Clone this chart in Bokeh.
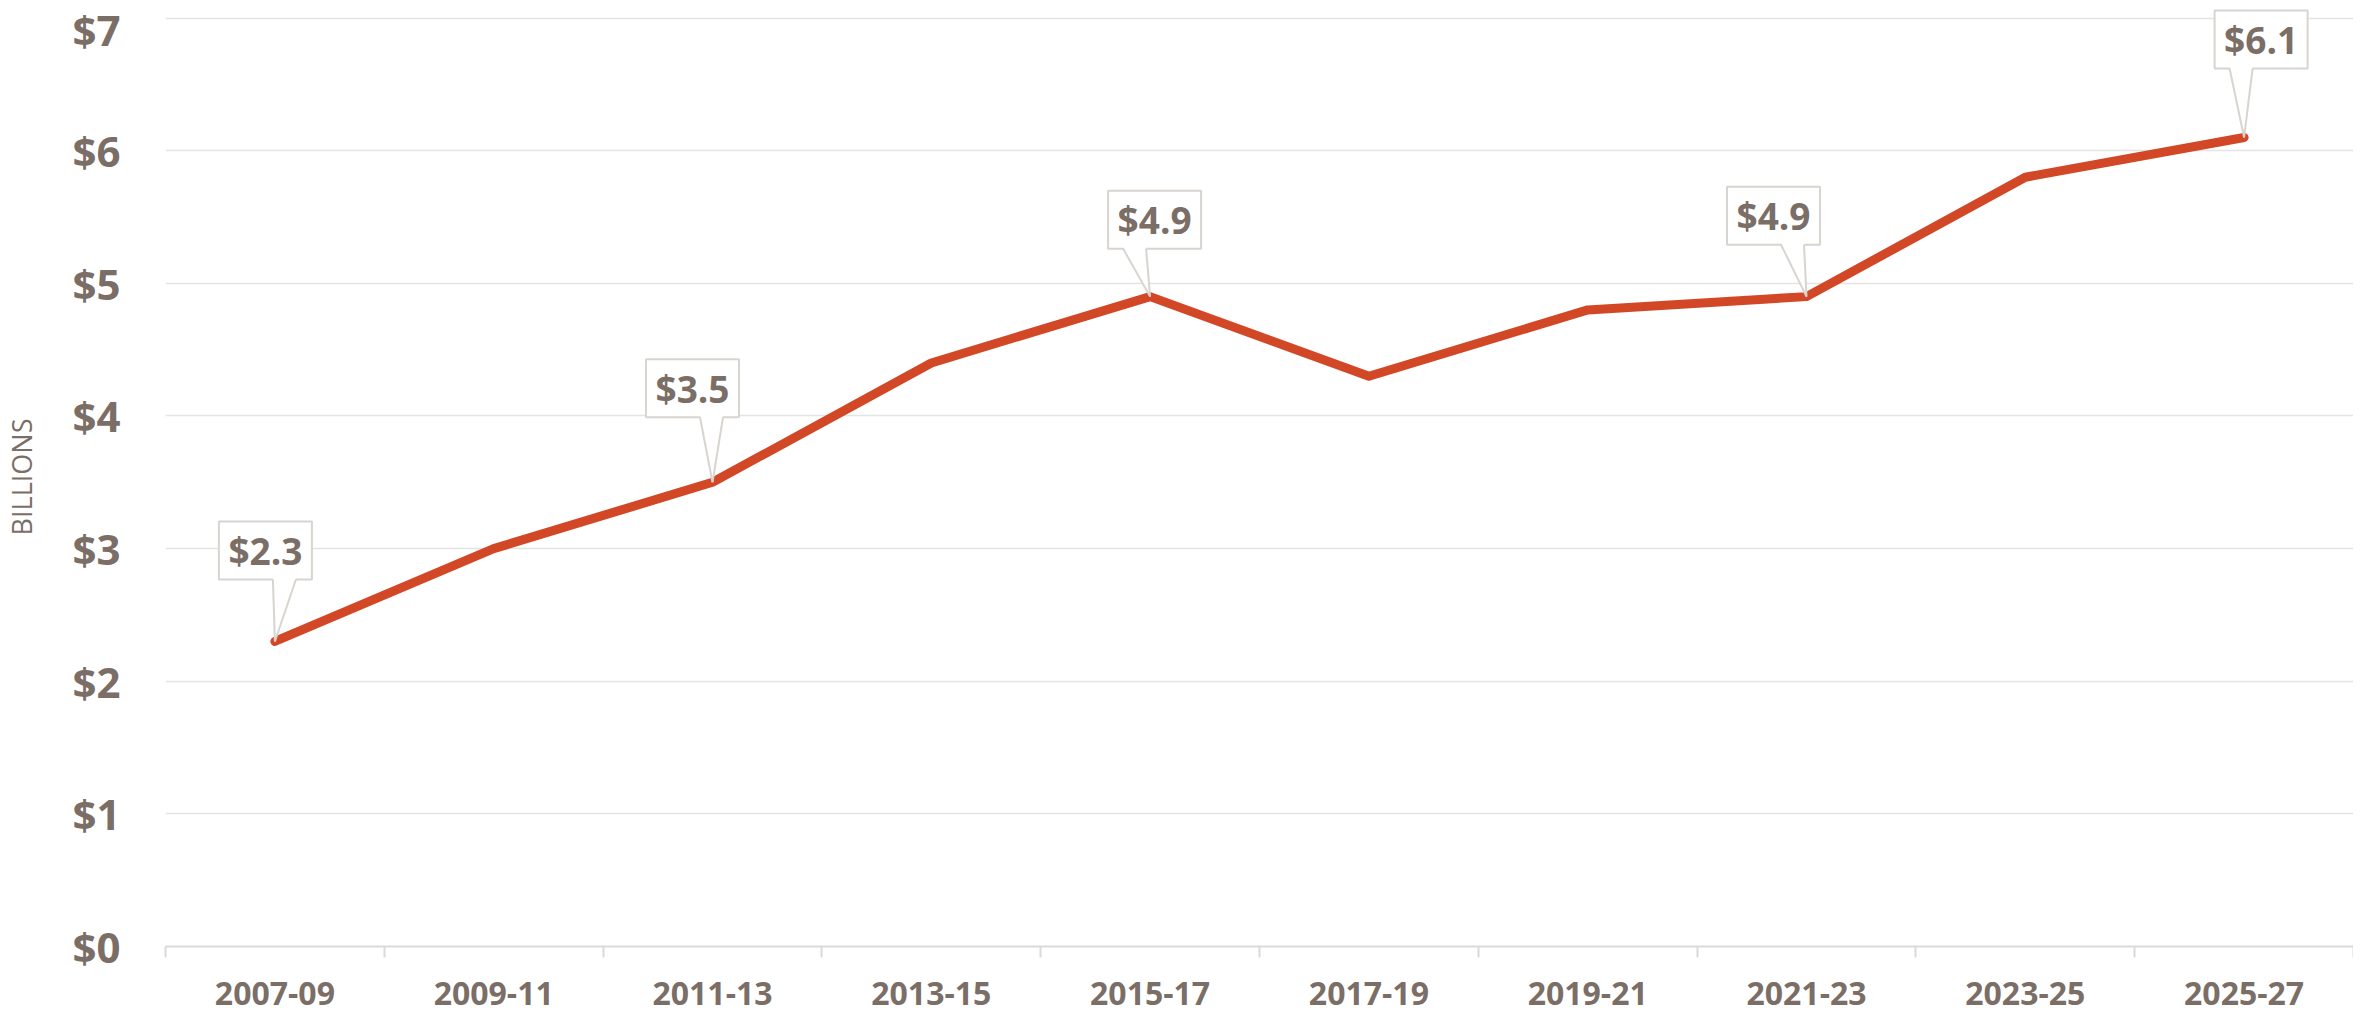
from bokeh.plotting import figure
from bokeh.models import FixedTicker, NumeralTickFormatter, Range1d
from bokeh.core.properties import value
from bokeh.embed import file_html
from bokeh.resources import INLINE

# ---- data ----
periods = ["2007-09", "2009-11", "2011-13", "2013-15", "2015-17",
           "2017-19", "2019-21", "2021-23", "2023-25", "2025-27"]
spending = [2.3, 3.0, 3.5, 4.4, 4.9, 4.3, 4.8, 4.9, 5.8, 6.1]
callout_idx = [0, 2, 4, 7, 9]
y_ticks = [0, 1, 2, 3, 4, 5, 6, 7]
y_title = "BILLIONS"

# ---- style ----
FONT = "Open Sans"
TEXT = "#7A6E66"
LINE = "#D24726"
GRID = "#E4E4E4"
AXIS = "#DADADA"
BOX_LINE = "#D8D4CF"
FRAME_W, FRAME_H = 2188, 939
Y_MAX = 7.08
BOX_W, BOX_H = 93, 58
callout_dx = [-9.5, -20, 4.5, -33, 17]      # box centre offset from point (px)
callout_gap = [62, 65, 48, 52, 69]          # gap between point and box bottom (px)
pointer_side = ["right", "right", "left", "right", "left"]

n = len(periods)
xs = [i + 0.5 for i in range(n)]

p = figure(frame_width=FRAME_W, frame_height=FRAME_H,
           x_range=Range1d(0, n), y_range=Range1d(0, Y_MAX),
           output_backend="svg", toolbar_location=None,
           min_border_left=158, min_border_right=0,
           min_border_top=7, min_border_bottom=66)
p.outline_line_color = None
p.background_fill_color = "white"
p.border_fill_color = "white"

# x axis
xa = p.xaxis[0]
xa.ticker = FixedTicker(ticks=xs, minor_ticks=list(range(n + 1)))
xa.major_label_overrides = {x: lab for x, lab in zip(xs, periods)}
xa.major_tick_out = 0
xa.major_tick_in = 0
xa.minor_tick_out = 11
xa.minor_tick_in = 0
xa.minor_tick_line_color = AXIS
xa.minor_tick_line_width = 2
xa.axis_line_color = AXIS
xa.axis_line_width = 2
xa.major_label_text_font = FONT
xa.major_label_text_font_style = "bold"
xa.major_label_text_font_size = "32px"
xa.major_label_text_color = TEXT
xa.major_label_standoff = 24

# y axis
ya = p.yaxis[0]
ya.ticker = FixedTicker(ticks=y_ticks)
ya.formatter = NumeralTickFormatter(format="$0")
ya.axis_line_color = None
ya.major_tick_out = 0
ya.major_tick_in = 0
ya.minor_tick_line_color = None
ya.major_label_text_font = FONT
ya.major_label_text_font_style = "bold"
ya.major_label_text_font_size = "42px"
ya.major_label_text_color = TEXT
ya.major_label_standoff = 45
ya.axis_label = y_title
ya.axis_label_text_font = FONT
ya.axis_label_text_font_style = "normal"
ya.axis_label_text_font_size = "27px"
ya.axis_label_text_color = TEXT
ya.axis_label_standoff = 29

p.xgrid.grid_line_color = None
p.ygrid.ticker = FixedTicker(ticks=y_ticks)
p.ygrid.grid_line_color = GRID
p.ygrid.grid_line_width = 1.5

# main line
p.line(xs, spending, line_color=LINE, line_width=9, line_cap="round", line_join="round")

# callouts
dpx = n / FRAME_W
dpy = Y_MAX / FRAME_H
box_x, box_y, labels = [], [], []
tri_xs, tri_ys = [], []
sx0, sy0, sx1, sy1 = [], [], [], []
for k, i in enumerate(callout_idx):
    x0, y0 = xs[i], spending[i]
    cx = x0 + callout_dx[k] * dpx
    bottom = y0 + callout_gap[k] * dpy
    cy = bottom + (BOX_H / 2) * dpy
    b0, b1 = (7.5, 30.5) if pointer_side[k] == "right" else (-31.5, -8.5)
    xl, xr = cx + b0 * dpx, cx + b1 * dpx
    box_x.append(cx)
    box_y.append(cy)
    labels.append("$%.1f" % y0)
    tri_xs.append([xl, xr, x0])
    tri_ys.append([bottom + 2 * dpy, bottom + 2 * dpy, y0])
    for bx in (xl, xr):
        sx0.append(bx); sy0.append(bottom); sx1.append(x0); sy1.append(y0)

p.rect(box_x, box_y, width=BOX_W, height=BOX_H, width_units="screen",
       height_units="screen", fill_color="white", line_color=BOX_LINE, line_width=2)
p.patches(tri_xs, tri_ys, fill_color="white", line_color=None)
p.segment(sx0, sy0, sx1, sy1, line_color=BOX_LINE, line_width=2)
p.text(box_x, box_y, text=labels, text_align="center", text_baseline="middle",
       text_font=value(FONT), text_font_style="bold", text_font_size="37px",
       text_color=TEXT)

open("out.html", "w").write(file_html(p, INLINE))
